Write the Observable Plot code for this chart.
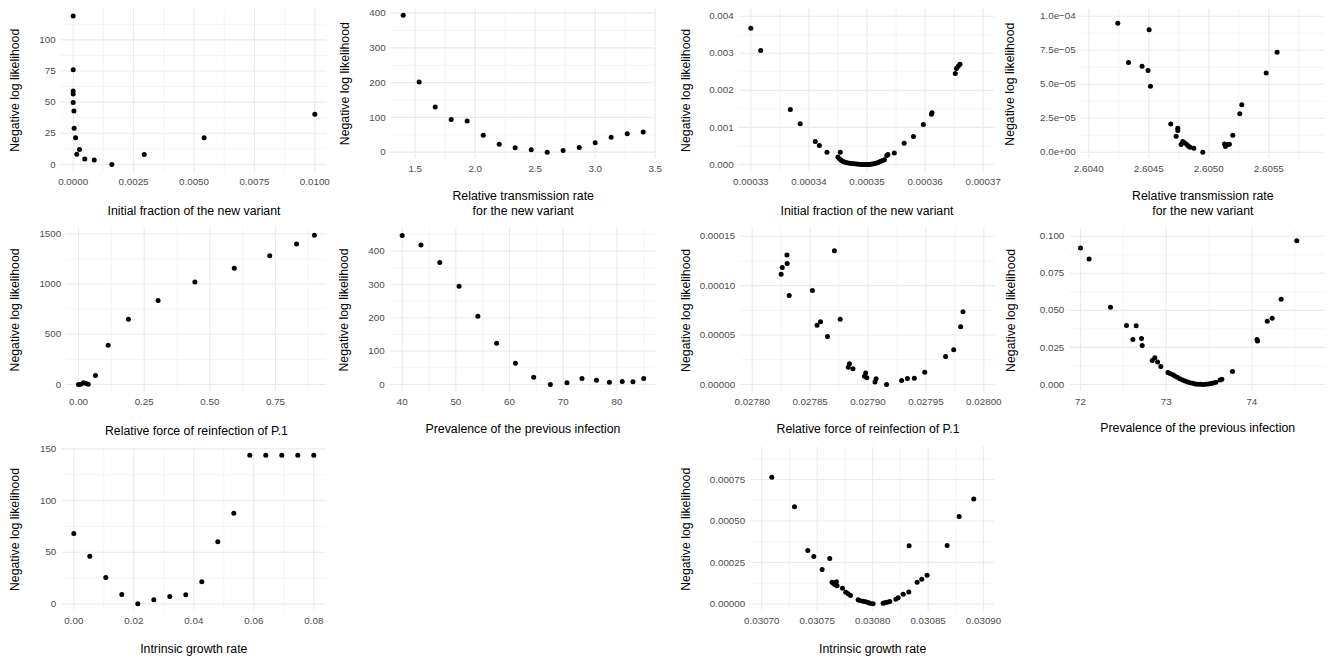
<!DOCTYPE html>
<html><head><meta charset="utf-8">
<script src="https://cdn.jsdelivr.net/npm/d3@7"></script>
<script src="https://cdn.jsdelivr.net/npm/@observablehq/plot@0.6"></script>
<style>
body{margin:0;background:#fff;}
#root{position:relative;width:1332px;height:660px;overflow:hidden;background:#fff;}
#root svg{position:absolute;overflow:visible;}
</style></head><body><div id="root"></div><script>
// ---- titles ----
const yTitle = "Negative log likelihood";
const tInit = "Initial fraction of the new variant";
const tTrans = "Relative transmission rate\nfor the new variant";
const tReinf = "Relative force of reinfection of P.1";
const tPrev = "Prevalence of the previous infection";
const tGrowth = "Intrinsic growth rate";

// ---- panel 1 ----
const p1X = [0, 0, 0, 0, 0, 0.00003, 0.00004, 0.0001, 0.00026, 0.00015, 0.00048, 0.00087, 0.0016, 0.00294, 0.00542, 0.0100];
const p1Y = [119.1, 75.9, 59.0, 56.6, 49.7, 43.0, 29.1, 21.4, 12.0, 8.3, 4.3, 3.5, 0, 8.0, 21.4, 40.3];
const p1XTicks = [0, 0.0025, 0.005, 0.0075, 0.01];
const p1XLabels = ["0.0000", "0.0025", "0.0050", "0.0075", "0.0100"];
const p1YTicks = [0, 25, 50, 75, 100];
const p1YLabels = ["0", "25", "50", "75", "100"];

// ---- panel 2 ----
const p2X = [1.4, 1.533, 1.667, 1.8, 1.933, 2.067, 2.2, 2.333, 2.467, 2.6, 2.733, 2.867, 3.0, 3.133, 3.267, 3.4];
const p2Y = [394, 202, 130, 94, 90, 49, 23, 12.5, 6.7, 0, 4.8, 13.5, 27, 43, 53, 58];
const p2XTicks = [1.5, 2, 2.5, 3, 3.5];
const p2XLabels = ["1.5", "2.0", "2.5", "3.0", "3.5"];
const p2YTicks = [0, 100, 200, 300, 400];
const p2YLabels = ["0", "100", "200", "300", "400"];

// ---- panel 3 ----
const p3X = [0.00033, 0.0003317, 0.0003368, 0.0003385, 0.0003411, 0.0003418, 0.0003431, 0.0003454,
  0.000345, 0.0003453, 0.0003456, 0.0003459, 0.0003462, 0.0003466, 0.000347, 0.0003474, 0.0003478, 0.0003482,
  0.0003486, 0.000349, 0.0003494, 0.0003497, 0.00035, 0.0003503, 0.0003506, 0.0003509, 0.0003512, 0.0003515,
  0.0003518, 0.0003521, 0.0003524, 0.0003527, 0.000353,
  0.0003534, 0.0003536, 0.0003547, 0.0003564, 0.000358, 0.0003597, 0.0003611, 0.0003612, 0.0003652, 0.0003654, 0.0003657, 0.000366];
const p3Y = [0.003676, 0.003074, 0.001483, 0.001097, 0.00062, 0.000512, 0.000333, 0.000333,
  0.0002, 0.00015, 0.00011, 0.00008, 0.00006, 0.000045, 0.000035, 0.000025, 0.000017, 0.00001,
  0.000005, 0.000002, 0, 0, 0.000001, 0.000003, 0.000006, 0.000012, 0.00002, 0.000035,
  0.00005, 0.00007, 0.00009, 0.00011, 0.00013,
  0.00024, 0.00027, 0.00031, 0.000575, 0.000755, 0.001079, 0.001357, 0.001393, 0.002454, 0.002589, 0.002652, 0.002706];
const p3XTicks = [0.00033, 0.00034, 0.00035, 0.00036, 0.00037];
const p3XLabels = ["0.00033", "0.00034", "0.00035", "0.00036", "0.00037"];
const p3YTicks = [0, 0.001, 0.002, 0.003, 0.004];
const p3YLabels = ["0.000", "0.001", "0.002", "0.003", "0.004"];

// ---- panel 4 ----
const p4X = [2.604242, 2.604331, 2.604444, 2.604494, 2.604503, 2.604514, 2.604683, 2.604742, 2.604742, 2.604728,
  2.604769, 2.604783, 2.604797, 2.604817, 2.604831, 2.604844, 2.604875, 2.60495, 2.605131, 2.605139,
  2.605156, 2.605172, 2.6052, 2.605258, 2.605275, 2.605478, 2.605569];
const p4Y = [9.49e-5, 6.59e-5, 6.32e-5, 6.00e-5, 9.00e-5, 4.85e-5, 2.08e-5, 1.76e-5, 1.59e-5, 1.18e-5,
  5.6e-6, 7.8e-6, 6.9e-6, 5.6e-6, 4.4e-6, 3.7e-6, 2.9e-6, 0, 6.1e-6, 4.2e-6,
  5.6e-6, 5.9e-6, 1.25e-5, 2.82e-5, 3.48e-5, 5.83e-5, 7.35e-5];
const p4XTicks = [2.604, 2.6045, 2.605, 2.6055];
const p4XLabels = ["2.6040", "2.6045", "2.6050", "2.6055"];
const p4YTicks = [0, 2.5e-5, 5e-5, 7.5e-5, 1e-4];
const p4YLabels = ["0.0e+00", "2.5e\u221205", "5.0e\u221205", "7.5e\u221205", "1.0e\u221204"];

// ---- panel 5 ----
const p5X = [0, 0.0089, 0.019, 0.028, 0.037, 0.0647, 0.113, 0.190, 0.303, 0.443, 0.593, 0.728, 0.830, 0.898];
const p5Y = [0, 3, 17, 10, 3, 90, 392, 650, 836, 1019, 1158, 1281, 1397, 1484];
const p5XTicks = [0, 0.25, 0.5, 0.75];
const p5XLabels = ["0.00", "0.25", "0.50", "0.75"];
const p5YTicks = [0, 500, 1000, 1500];
const p5YLabels = ["0", "500", "1000", "1500"];

// ---- panel 6 ----
const p6X = [40.0, 43.5, 47.0, 50.6, 54.1, 57.6, 61.1, 64.5, 67.6, 70.7, 73.5, 76.2, 78.6, 81.0, 83.0, 85.0];
const p6Y = [447, 418, 366, 295, 205, 124, 64, 22, 0, 5, 18, 13, 7, 9, 8, 18];
const p6XTicks = [40, 50, 60, 70, 80];
const p6XLabels = ["40", "50", "60", "70", "80"];
const p6YTicks = [0, 100, 200, 300, 400];
const p6YLabels = ["0", "100", "200", "300", "400"];

// ---- panel 7 ----
const p7X = [0.027825, 0.027826, 0.02783, 0.0278302, 0.027832, 0.027852, 0.027856, 0.027859, 0.027865, 0.027871,
  0.027876, 0.027883, 0.027884, 0.027887, 0.027897, 0.027898, 0.027899, 0.027906, 0.027907, 0.027916,
  0.027929, 0.027934, 0.02794, 0.027949, 0.027967, 0.027974, 0.02798, 0.027982];
const p7Y = [1.116e-4, 1.183e-4, 1.311e-4, 1.224e-4, 0.9e-4, 0.951e-4, 0.6e-4, 0.634e-4, 0.486e-4, 1.352e-4,
  0.661e-4, 0.175e-4, 0.209e-4, 0.158e-4, 0.084e-4, 0.115e-4, 0.067e-4, 0.024e-4, 0.057e-4, 0,
  0.04e-4, 0.061e-4, 0.064e-4, 0.125e-4, 0.283e-4, 0.351e-4, 0.583e-4, 0.735e-4];
const p7XTicks = [0.0278, 0.02785, 0.0279, 0.02795, 0.028];
const p7XLabels = ["0.02780", "0.02785", "0.02790", "0.02795", "0.02800"];
const p7YTicks = [0, 5e-5, 1e-4, 1.5e-4];
const p7YLabels = ["0.00000", "0.00005", "0.00010", "0.00015"];

// ---- panel 8 ----
const p8X = [72.0, 72.10, 72.35, 72.537, 72.611, 72.65, 72.712, 72.72, 72.837, 72.868, 72.9, 72.938,
  73.02, 73.05, 73.08, 73.10, 73.13, 73.16, 73.19, 73.22, 73.25, 73.28, 73.31, 73.34, 73.37, 73.40, 73.43,
  73.46, 73.49, 73.52, 73.55, 73.58, 73.63, 73.65,
  73.774, 74.06, 74.066, 74.18, 74.237, 74.342, 74.525];
const p8Y = [0.0921, 0.0847, 0.0521, 0.0398, 0.0303, 0.0396, 0.031, 0.0263, 0.0162, 0.018, 0.0151, 0.0121,
  0.008, 0.0072, 0.0065, 0.0058, 0.0048, 0.0038, 0.003, 0.0023, 0.0017, 0.0012, 0.0008, 0.0004, 0.0002, 0.0001, 0,
  0.0001, 0.0003, 0.0006, 0.001, 0.0015, 0.003, 0.0036,
  0.0088, 0.0303, 0.0294, 0.0427, 0.0447, 0.0575, 0.0969];
const p8XTicks = [72, 73, 74];
const p8XLabels = ["72", "73", "74"];
const p8YTicks = [0, 0.025, 0.05, 0.075, 0.1];
const p8YLabels = ["0.000", "0.025", "0.050", "0.075", "0.100"];

// ---- panel 9 ----
const p9X = [0, 0.00533, 0.01067, 0.016, 0.02133, 0.02667, 0.032, 0.03733, 0.04267, 0.048, 0.05333, 0.05867, 0.064, 0.06933, 0.07467, 0.08];
const p9Y = [68.1, 46.1, 25.5, 9.0, 0, 3.9, 7.1, 8.7, 21.3, 60, 87.7, 143.9, 143.9, 143.9, 143.9, 143.9];
const p9XTicks = [0, 0.02, 0.04, 0.06, 0.08];
const p9XLabels = ["0.00", "0.02", "0.04", "0.06", "0.08"];
const p9YTicks = [0, 50, 100, 150];
const p9YLabels = ["0", "50", "100", "150"];

// ---- panel 10 ----
const p10X = [0.030709, 0.0307295, 0.0307415, 0.0307469, 0.0307544, 0.0307613, 0.0307634, 0.0307643, 0.0307658, 0.0307673,
  0.0307679, 0.0307728, 0.0307758, 0.0307779, 0.03078, 0.0307869, 0.0307884, 0.0307914, 0.0307938, 0.0307959,
  0.0307974, 0.0308004, 0.0308094, 0.0308109, 0.030813, 0.0308155, 0.0308209, 0.030823, 0.0308275, 0.0308326,
  0.0308329, 0.0308401, 0.0308443, 0.0308491, 0.0308672, 0.030878, 0.0308912];
const p10Y = [0.000764, 0.000585, 0.000322, 0.000286, 0.000207, 0.000274, 0.000131, 0.000125, 0.000117, 0.000133,
  0.000109, 0.0000945, 0.0000704, 0.0000603, 0.0000503, 0.0000241, 0.0000201, 0.0000161, 0.0000121, 0.000008,
  0.000004, 0, 0.000004, 0.000006, 0.00001, 0.000014, 0.000028, 0.000036, 0.000058, 0.000072,
  0.00035, 0.000131, 0.000149, 0.000173, 0.000352, 0.000527, 0.000632];
const p10XTicks = [0.0307, 0.03075, 0.0308, 0.03085, 0.0309];
const p10XLabels = ["0.03070", "0.03075", "0.03080", "0.03085", "0.03090"];
const p10YTicks = [0, 0.00025, 0.0005, 0.00075];
const p10YLabels = ["0.00000", "0.00025", "0.00050", "0.00075"];

// ---- layout (cell origin, plot-area edges in page px, scale domains) ----
const panels = [
  {ox:0, oy:0, L:60.6, R:326.4, T:8.1, B:171.4, xd:[-0.0005,0.0105], yd:[-5.95,125.05], xs:p1X, ys:p1Y, xt:p1XTicks, xl:p1XLabels, yt:p1YTicks, yl:p1YLabels, xTitle:tInit, ytx:15, xty:210},
  {ox:333, oy:0, L:390.7, R:654.7, T:7.9, B:158.5, xd:[1.3,3.5], yd:[-19.7,413.7], xs:p2X, ys:p2Y, xt:p2XTicks, xl:p2XLabels, yt:p2YTicks, yl:p2YLabels, xTitle:tTrans, ytx:345, xty:202.5},
  {ox:666, oy:0, L:738.7, R:994.3, T:8.3, B:171.4, xd:[0.000328,0.000372], yd:[-0.0002,0.0042], xs:p3X, ys:p3Y, xt:p3XTicks, xl:p3XLabels, yt:p3YTicks, yl:p3YLabels, xTitle:tInit, ytx:686, xty:210},
  {ox:999, oy:0, L:1080.7, R:1324, T:8.9, B:158.5, xd:[2.603937,2.605964], yd:[-5e-6,1.05e-4], xs:p4X, ys:p4Y, xt:p4XTicks, xl:p4XLabels, yt:p4YTicks, yl:p4YLabels, xTitle:tTrans, ytx:1010, xty:202.5},
  {ox:0, oy:220, L:66.2, R:325.7, T:227.4, B:391.5, xd:[-0.0449,0.9429], yd:[-74.2,1558.2], xs:p5X, ys:p5Y, xt:p5XTicks, xl:p5XLabels, yt:p5YTicks, yl:p5YLabels, xTitle:tReinf, ytx:15, xty:429.3},
  {ox:333, oy:220, L:389.6, R:655.3, T:227.5, B:391.45, xd:[37.75,87.25], yd:[-22.35,469.35], xs:p6X, ys:p6Y, xt:p6XTicks, xl:p6XLabels, yt:p6YTicks, yl:p6YLabels, xTitle:tPrev, ytx:344, xty:428},
  {ox:666, oy:220, L:740.1, R:994.9, T:228.3, B:391.4, xd:[0.02779,0.02801], yd:[-7.5e-6,1.575e-4], xs:p7X, ys:p7Y, xt:p7XTicks, xl:p7XLabels, yt:p7YTicks, yl:p7YLabels, xTitle:tReinf, ytx:686, xty:428},
  {ox:999, oy:220, L:1069.3, R:1325, T:228.3, B:391.4, xd:[71.875,74.86], yd:[-0.005,0.105], xs:p8X, ys:p8Y, xt:p8XTicks, xl:p8XLabels, yt:p8YTicks, yl:p8YLabels, xTitle:tPrev, ytx:1011, xty:427},
  {ox:0, oy:440, L:61.3, R:325.3, T:447.2, B:610.8, xd:[-0.004,0.084], yd:[-7.2,151.1], xs:p9X, ys:p9Y, xt:p9XTicks, xl:p9XLabels, yt:p9YTicks, yl:p9YLabels, xTitle:tGrowth, ytx:15, xty:648},
  {ox:666, oy:440, L:750.2, R:994.1, T:446.7, B:610.8, xd:[0.03069,0.03091], yd:[-0.000045,0.000945], xs:p10X, ys:p10Y, xt:p10XTicks, xl:p10XLabels, yt:p10YTicks, yl:p10YLabels, xTitle:tGrowth, ytx:686, xty:648}
];

function minorOf(ticks, domain) {
  const step = ticks[1] - ticks[0];
  const out = [];
  for (let i = -1; i < ticks.length; i++) {
    const v = ticks[0] + (i + 0.5) * step;
    if (v >= domain[0] && v <= domain[1]) out.push(v);
  }
  return out;
}

const W = 333, H = 220;
const root = document.getElementById("root");
const gridStyle = {stroke: "#ebebeb", strokeOpacity: 1};
for (const p of panels) {
  const xMap = new Map(p.xt.map((t, i) => [t, p.xl[i]]));
  const yMap = new Map(p.yt.map((t, i) => [t, p.yl[i]]));
  const idx = d3.range(p.xs.length);
  const svg = Plot.plot({
    width: W, height: H,
    marginLeft: p.L - p.ox, marginRight: p.ox + W - p.R,
    marginTop: p.T - p.oy, marginBottom: p.oy + H - p.B,
    x: {domain: p.xd}, y: {domain: p.yd},
    style: {fontFamily: "'Liberation Sans', Arial, sans-serif", overflow: "visible", background: "transparent"},
    marks: [
      Plot.gridX(minorOf(p.xt, p.xd), {...gridStyle, strokeWidth: 0.55}),
      Plot.gridY(minorOf(p.yt, p.yd), {...gridStyle, strokeWidth: 0.55}),
      Plot.gridX(p.xt, {...gridStyle, strokeWidth: 1.1}),
      Plot.gridY(p.yt, {...gridStyle, strokeWidth: 1.1}),
      Plot.axisX(p.xt, {tickFormat: d => xMap.get(d), tickSize: 0, tickPadding: 6, fontSize: 9.8, color: "#4d4d4d", label: null}),
      Plot.axisY(p.yt, {tickFormat: d => yMap.get(d), tickSize: 0, tickPadding: 5.5, fontSize: 9.8, color: "#4d4d4d", label: null}),
      Plot.dot(idx, {x: i => p.xs[i], y: i => p.ys[i], r: 2.5, fill: "black"}),
      Plot.text([yTitle], {text: d => d, frameAnchor: "left", dx: p.ytx - p.L, rotate: -90, textAnchor: "middle", lineAnchor: "middle", fontSize: 12.3, fill: "black"}),
      Plot.text([p.xTitle], {text: d => d, frameAnchor: "bottom", dy: p.xty - p.B, textAnchor: "middle", lineAnchor: "middle", lineHeight: 1.22, fontSize: 12.3, fill: "black"})
    ]
  });
  svg.style.left = p.ox + "px";
  svg.style.top = p.oy + "px";
  root.appendChild(svg);
}
</script></body></html>
